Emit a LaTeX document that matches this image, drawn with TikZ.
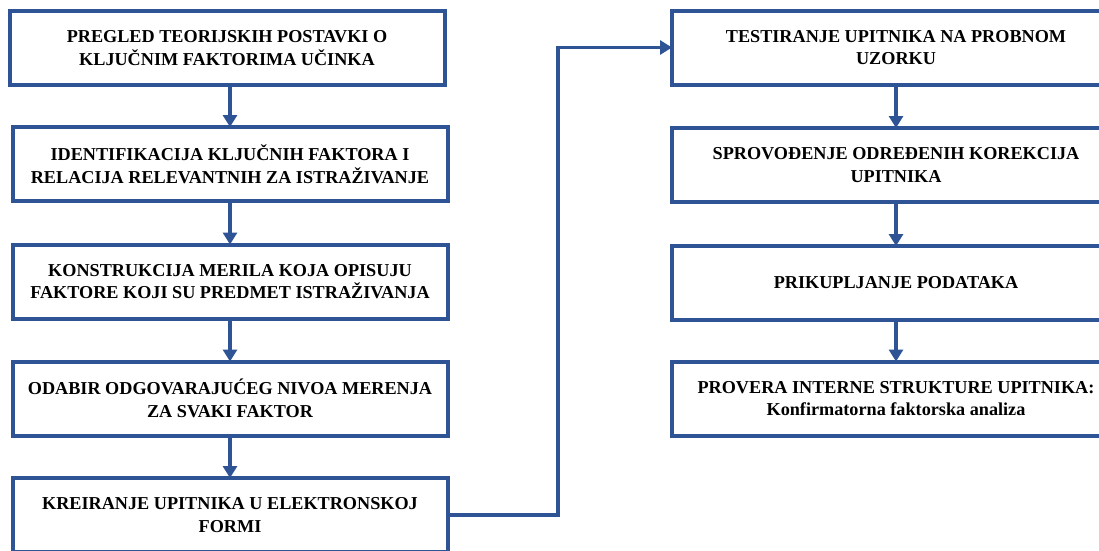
\documentclass[tikz,border=0pt]{standalone}
\usepackage{fontspec}
\setmainfont{Liberation Serif}
\usetikzlibrary{arrows.meta}
\definecolor{flowblue}{RGB}{47,84,150}
\tikzset{
  stepbox/.style={draw=flowblue, line width=4pt, rectangle, align=center,
    minimum width=435pt, minimum height=74pt, inner sep=0pt, outer sep=0pt,
    font=\fontsize{18.2}{22.5}\selectfont\bfseries, text=black},
  rightbox/.style={stepbox, minimum width=448pt},
  flow/.style={draw=flowblue, line width=3.5pt,
    -{Triangle[width=14pt,length=12pt]}},
}
\begin{document}
\begin{tikzpicture}[x=1pt,y=-1pt]
  \useasboundingbox (0,0) rectangle (1099,550);
  % left column
  \node[stepbox] (l1) at (227,48) {PREGLED TEORIJSKIH POSTAVKI O\\KLJUČNIM FAKTORIMA UČINKA};
  \node[stepbox] (l2) at (230,164) {IDENTIFIKACIJA KLJUČNIH FAKTORA I\\RELACIJA RELEVANTNIH ZA ISTRAŽIVANJE};
  \node[stepbox] (l3) at (230,281.5) {KONSTRUKCIJA MERILA KOJA OPISUJU\\FAKTORE KOJI SU PREDMET ISTRAŽIVANJA};
  \node[stepbox] (l4) at (230,398.5) {ODABIR ODGOVARAJUĆEG NIVOA MERENJA\\ZA SVAKI FAKTOR};
  \node[stepbox] (l5) at (230,515) {KREIRANJE UPITNIKA U ELEKTRONSKOJ\\FORMI};
  % right column
  \node[rightbox] (r1) at (896,47.5) {TESTIRANJE UPITNIKA NA PROBNOM\\UZORKU};
  \node[rightbox] (r2) at (896,165) {SPROVOĐENJE ODREĐENIH KOREKCIJA\\UPITNIKA};
  \node[rightbox] (r3) at (896,283) {PRIKUPLJANJE PODATAKA};
  \node[rightbox] (r4) at (896,398.5) {PROVERA INTERNE STRUKTURE UPITNIKA:\\Konfirmatorna faktorska analiza};
  % connectors
  \draw[flow] (l1.south -| l2.north) -- (l2.north);
  \draw[flow] (l2) -- (l3);
  \draw[flow] (l3) -- (l4);
  \draw[flow] (l4) -- (l5);
  \coordinate (bendlow) at (558,515);
  \draw[flow] (l5.east) -- (bendlow) |- (r1.west);
  \draw[flow] (r1) -- (r2);
  \draw[flow] (r2) -- (r3);
  \draw[flow] (r3) -- (r4);
\end{tikzpicture}
\end{document}
